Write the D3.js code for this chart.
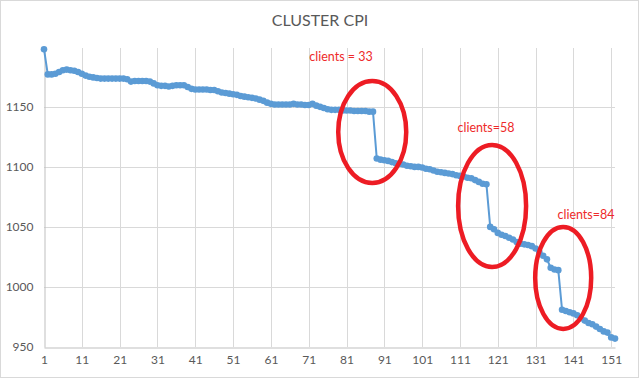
<!DOCTYPE html>
<html>
<head>
<meta charset="utf-8">
<script src="https://cdn.jsdelivr.net/npm/d3@7"></script>
<style>
  body { margin: 0; background: #fff; }
  text { font-family: Lato, "Open Sans", sans-serif; }
</style>
</head>
<body>
<svg id="chart" width="639" height="378"></svg>
<script>
// CPI values per run
var cpi = [
  1198, 1177, 1177, 1177.5, 1179, 1180.5, 1181, 1180.5, 1180, 1179,
  1177.5, 1176, 1175, 1174.5, 1174, 1173.5, 1173.5, 1173.5, 1173.5, 1173.5,
  1173.5, 1173.5, 1173, 1171, 1171.5, 1171.5, 1171.5, 1171.5, 1171, 1169.5,
  1168, 1167.5, 1167.5, 1167, 1167.5, 1168, 1168, 1168, 1166.5, 1165,
  1164.5, 1164.5, 1164.5, 1164.5, 1164, 1164, 1163, 1162, 1161.5, 1161,
  1160.5, 1160, 1159, 1158.5, 1158, 1157.5, 1157, 1156, 1155, 1153.5,
  1152.5, 1152, 1152, 1152, 1152, 1152, 1152.5, 1152, 1152, 1151.5,
  1151.5, 1152.5, 1151, 1150, 1149, 1148, 1147.5, 1147.5, 1147.5, 1147,
  1147, 1147, 1146.5, 1146.5, 1146.5, 1146.5, 1146, 1146, 1107, 1106,
  1105.5, 1105, 1104, 1103, 1102.5, 1102, 1101, 1100.5, 1100, 1100,
  1099.5, 1098.5, 1098, 1097, 1096, 1095.5, 1095, 1094.5, 1094, 1093,
  1092.5, 1092, 1091, 1090.5, 1089, 1087.5, 1086, 1085.5, 1050, 1048,
  1045, 1043.5, 1042.5, 1041, 1039.5, 1037.5, 1036, 1035.5, 1035, 1034,
  1032, 1029, 1026, 1023, 1016, 1014.5, 1014, 981, 980, 979,
  978, 976.5, 974, 972, 970, 969, 967, 965, 963, 962,
  958, 957
];
var runs = cpi.map(function(v, i) { return i + 1; });
var xTicks = [1, 11, 21, 31, 41, 51, 61, 71, 81, 91, 101, 111, 121, 131, 141, 151];
var yTicks = [950, 1000, 1050, 1100, 1150];

// annotations around the three jumps
var notes = ["clients = 33", "clients=58", "clients=84"];
var ellipseRun = [87.8, 119.5, 138.3];
var ellipseVal = [1129, 1067.5, 1007.5];
var ellipseR = [[34, 51], [34, 61], [28, 51]];

var svg = d3.select("#chart");
var W = 639, H = 378;
var margin = { left: 44, right: 24, top: 48, bottom: 31 };

svg.append("rect")
  .attr("x", 0.5).attr("y", 0.5)
  .attr("width", W - 1).attr("height", H - 1)
  .attr("fill", "#fff")
  .attr("stroke", "#d9d9d9");

var x = d3.scaleLinear()
  .domain([1, cpi.length])
  .range([margin.left, W - margin.right]);

var y = d3.scaleLinear()
  .domain([950, 1199])
  .range([H - margin.bottom, margin.top]);

// grid
svg.append("g")
  .selectAll("line.v")
  .data(xTicks.slice(1))
  .enter()
  .append("line")
  .attr("x1", d => Math.round(x(d)) + 0.5)
  .attr("x2", d => Math.round(x(d)) + 0.5)
  .attr("y1", y.range()[1])
  .attr("y2", y.range()[0])
  .attr("stroke", "#d9d9d9");

svg.append("g")
  .selectAll("line.h")
  .data(yTicks.slice(1))
  .enter()
  .append("line")
  .attr("x1", x.range()[0])
  .attr("x2", x.range()[1])
  .attr("y1", d => Math.round(y(d)) + 0.5)
  .attr("y2", d => Math.round(y(d)) + 0.5)
  .attr("stroke", "#d9d9d9");

// axes
var xAxis = svg.append("g")
  .attr("transform", "translate(0," + (Math.round(y(950)) + 0.5) + ")")
  .call(d3.axisBottom(x).tickValues(xTicks).tickSize(0).tickPadding(8).tickFormat(d3.format("d")));
xAxis.select(".domain").attr("stroke", "#bfbfbf");

var yAxis = svg.append("g")
  .attr("transform", "translate(" + (Math.round(x(1)) + 0.5) + ",0)")
  .call(d3.axisLeft(y).tickValues(yTicks).tickSize(0).tickPadding(11).tickFormat(d3.format("d")));
yAxis.select(".domain").attr("stroke", "#bfbfbf");

svg.selectAll(".tick text")
  .attr("fill", "#595959")
  .style("font-size", "12px")
  .style("font-family", "Lato, sans-serif");

// title
svg.append("text")
  .attr("x", 320)
  .attr("y", 26)
  .attr("text-anchor", "middle")
  .attr("fill", "#595959")
  .style("font-size", "16px")
  .text("CLUSTER CPI");

// series
var line = d3.line()
  .x((d, i) => x(runs[i]))
  .y(d => y(d));

svg.append("path")
  .datum(cpi)
  .attr("d", line)
  .attr("fill", "none")
  .attr("stroke", "#5b9bd5")
  .attr("stroke-width", 2);

svg.append("g")
  .selectAll("circle")
  .data(cpi)
  .enter()
  .append("circle")
  .attr("cx", (d, i) => x(runs[i]))
  .attr("cy", d => y(d))
  .attr("r", 3.3)
  .attr("fill", "#5b9bd5");

// red ellipses around the jumps
svg.append("g")
  .selectAll("ellipse")
  .data(ellipseRun)
  .enter()
  .append("ellipse")
  .attr("cx", d => x(d))
  .attr("cy", (d, i) => y(ellipseVal[i]))
  .attr("rx", (d, i) => ellipseR[i][0])
  .attr("ry", (d, i) => ellipseR[i][1])
  .attr("fill", "none")
  .attr("stroke", "#ed1c24")
  .attr("stroke-width", 4.5);

var noteX = [341, 486, 586];
var noteY = [61, 132, 219];
svg.append("g")
  .selectAll("text.note")
  .data(notes)
  .enter()
  .append("text")
  .attr("class", "note")
  .attr("x", (d, i) => noteX[i])
  .attr("y", (d, i) => noteY[i])
  .attr("text-anchor", "middle")
  .attr("fill", "#ee2a2a")
  .style("font-size", "12.5px")
  .text(d => d);
</script>
</body>
</html>
